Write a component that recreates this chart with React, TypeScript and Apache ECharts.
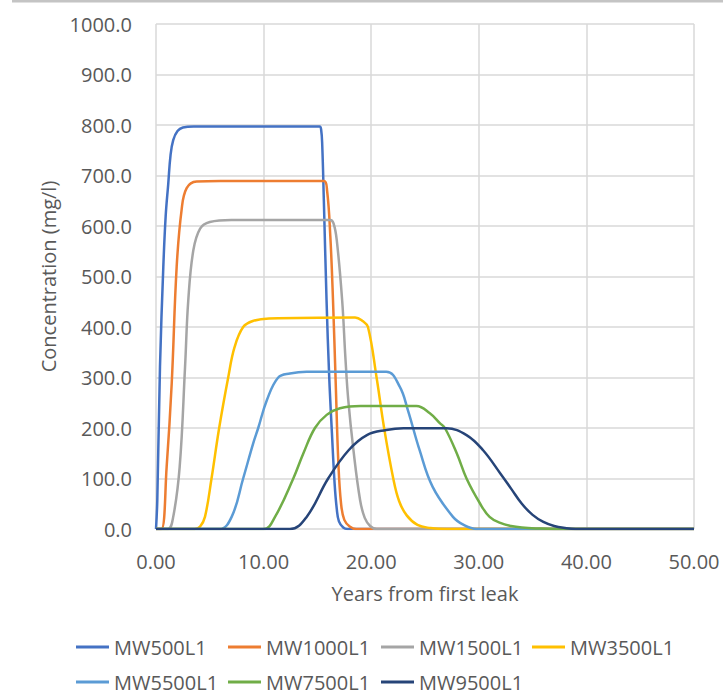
import React, { useEffect, useRef } from "react";
import * as echarts from "echarts";

const seriesNames = ["MW500L1", "MW1000L1", "MW1500L1", "MW3500L1", "MW5500L1", "MW7500L1", "MW9500L1"];
const seriesColors = ["#4472C4", "#ED7D31", "#A5A5A5", "#FFC000", "#5B9BD5", "#70AD47", "#264478"];

const mw500: number[][] = [
  [0, 0], [0.05, 0], [0.12, 57], [0.37, 321], [0.68, 519], [0.9, 620], [1.14, 684], [1.35, 740], [1.6, 770],
  [2.0, 788], [2.5, 795], [3.5, 797], [15.2, 797], [15.35, 790], [15.45, 760], [15.6, 650], [15.85, 453],
  [16.1, 300], [16.35, 190], [16.6, 90], [16.8, 40], [17.0, 15], [17.4, 3], [17.8, 0], [50, 0],
];
const mw1000: number[][] = [
  [0, 0], [0.5, 0], [0.99, 123], [1.46, 288], [1.92, 519], [2.38, 632], [2.85, 675], [3.78, 688], [6, 689],
  [15.6, 689], [15.9, 670], [16.2, 580], [16.45, 453], [16.7, 290], [16.95, 130], [17.2, 50], [17.5, 18],
  [18.0, 5], [18.6, 0], [50, 0],
];
const mw1500: number[][] = [
  [0, 0], [1.1, 0], [1.6, 24], [2.2, 123], [2.7, 321], [3.0, 453], [3.47, 552], [4.1, 595], [5.0, 608], [7, 612],
  [16.2, 612], [16.5, 605], [16.8, 572], [17.3, 453], [17.6, 340], [17.87, 255], [18.35, 156], [18.97, 57],
  [19.4, 22], [19.9, 6], [20.5, 0], [50, 0],
];
const mw3500: number[][] = [
  [0, 0], [3.6, 0], [4.1, 5], [4.55, 24], [5.16, 100], [5.87, 200], [6.71, 300], [7.3, 360], [8.1, 400],
  [9.0, 412], [10.5, 417], [18.5, 419], [19.2, 412], [19.7, 400], [20.5, 300], [21.2, 200], [22.05, 100],
  [22.6, 55], [23.3, 27], [24.3, 8], [25.5, 2], [27, 0], [50, 0],
];
const mw5500: number[][] = [
  [0, 0], [5.9, 0], [7.03, 24], [8.1, 100], [9.04, 170], [9.5, 200], [10.3, 255], [11.36, 300], [12.45, 308],
  [14.0, 311.5], [21.4, 311.5], [22.65, 282], [23.4, 236], [24.5, 156], [25.7, 84], [27.6, 24], [28.6, 8],
  [29.8, 0], [50, 0],
];
const mw7500: number[][] = [
  [0, 0], [10.0, 0], [11.06, 24], [12.76, 100], [13.7, 150], [14.77, 200], [15.86, 226], [17.1, 239],
  [19.0, 243.6], [24.2, 243.6], [25.45, 229], [26.4, 209], [26.85, 200], [27.95, 150], [28.86, 100],
  [30.1, 51], [31.0, 24], [32.0, 12], [33.0, 6], [34.0, 3], [35.5, 1], [37.0, 0], [50, 0],
];
const mw9500: number[][] = [
  [0, 0], [12.45, 0], [14.0, 24], [16.0, 100], [17.9, 156], [19.6, 186], [21.4, 196], [23.0, 199.4],
  [27.0, 199.4], [28.86, 186], [30.4, 156], [32.0, 110], [33.0, 80], [34.0, 50], [35.0, 28], [36.0, 14],
  [37.0, 6], [38.0, 2], [39.0, 0], [50, 0],
];
const seriesData = [mw500, mw1000, mw1500, mw3500, mw5500, mw7500, mw9500];

const xTitle = "Years from first leak";
const yTitle = "Concentration (mg/l)";

const legendSlots = [
  [76, 637], [228, 637], [381, 637], [532, 637],
  [76, 672], [228, 672], [381, 672],
];

const FONT = "'Open Sans', sans-serif";
const TEXT = "#595959";

export default function App() {
  const ref = useRef<HTMLDivElement>(null);
  useEffect(() => {
    if (!ref.current) return;
    const chart = echarts.init(ref.current, undefined, { renderer: "svg" });
    chart.setOption({
      animation: false,
      backgroundColor: "#ffffff",
      textStyle: { fontFamily: FONT },
      grid: { left: 156, top: 24, width: 538, height: 505, containLabel: false },
      graphic: [
        { type: "rect", shape: { x: 12, y: 0, width: 711, height: 2.5 }, style: { fill: "#c4c4c4" } },
      ],
      xAxis: {
        type: "value",
        min: 0,
        max: 50,
        interval: 10,
        name: xTitle,
        nameLocation: "middle",
        nameGap: 54,
        nameTextStyle: { fontSize: 20, color: TEXT, fontFamily: FONT },
        axisLine: { show: false },
        axisTick: { show: false },
        axisLabel: { fontSize: 20, color: TEXT, fontFamily: FONT, margin: 22, formatter: (v: number) => v.toFixed(2) },
        splitLine: { show: true, lineStyle: { color: "#d9d9d9", width: 1.5 } },
      },
      yAxis: {
        type: "value",
        min: 0,
        max: 1000,
        interval: 100,
        name: yTitle,
        nameLocation: "middle",
        nameGap: 97,
        nameTextStyle: { fontSize: 20, color: TEXT, fontFamily: FONT },
        axisLine: { show: false },
        axisTick: { show: false },
        axisLabel: { fontSize: 20, color: TEXT, fontFamily: FONT, margin: 24, formatter: (v: number) => v.toFixed(1) },
        splitLine: { show: true, lineStyle: { color: "#d9d9d9", width: 1.5 } },
      },
      legend: seriesNames.map((n, i) => ({
        data: [n],
        left: legendSlots[i][0],
        top: legendSlots[i][1],
        padding: 0,
        itemGap: 0,
        itemWidth: 33,
        itemHeight: 3,
        icon: "rect",
        selectedMode: false,
        textStyle: { fontSize: 20, color: TEXT, fontFamily: FONT },
      })),
      series: seriesNames.map((n, i) => ({
        name: n,
        type: "line",
        data: seriesData[i],
        color: seriesColors[i],
        showSymbol: false,
        symbol: "none",
        smooth: 0.4,
        lineStyle: { width: 2.5, color: seriesColors[i] },
      })),
    });
    return () => chart.dispose();
  }, []);
  return <div ref={ref} style={{ position: "absolute", left: 0, top: 0, width: 723, height: 697 }} />;
}
